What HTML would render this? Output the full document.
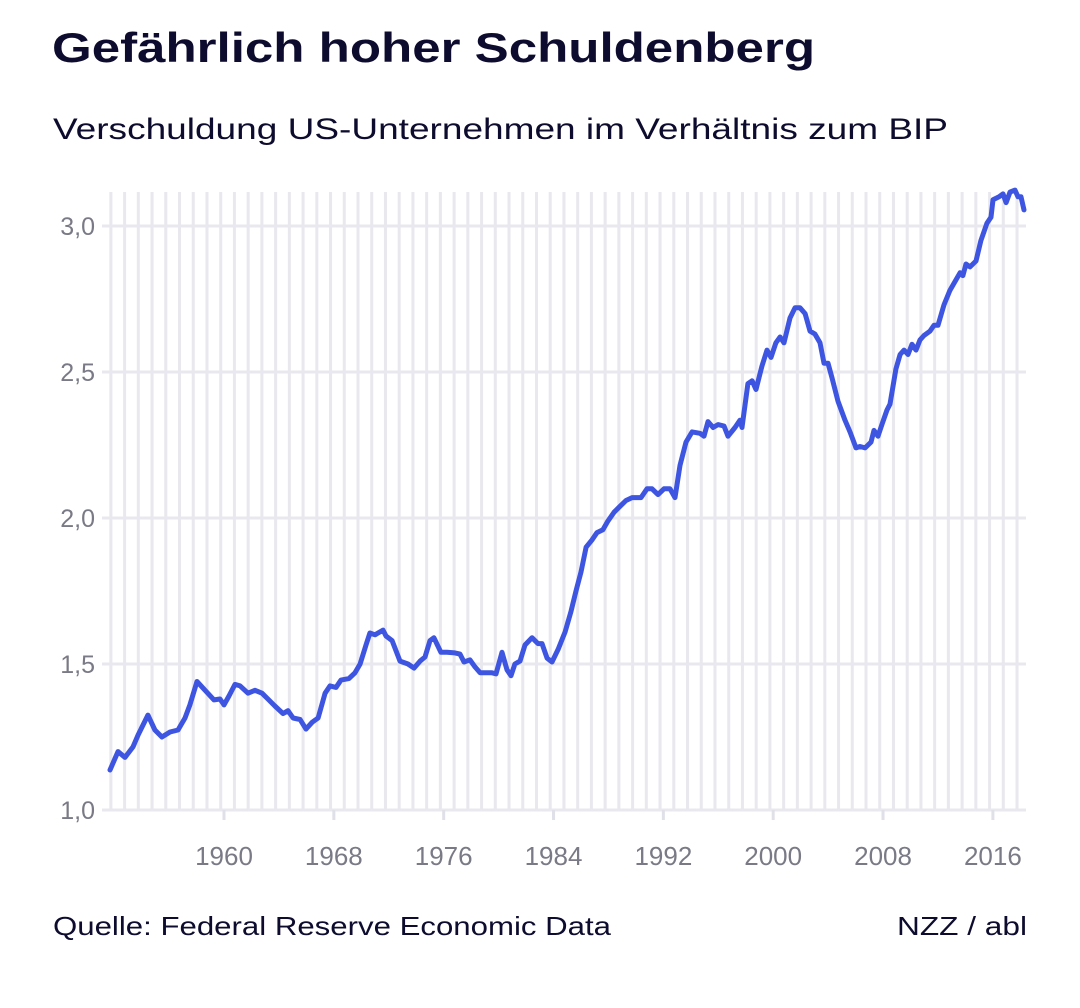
<!DOCTYPE html>
<html><head><meta charset="utf-8"><style>
html,body{margin:0;padding:0;background:#fff;}
svg{display:block;font-family:"Liberation Sans",sans-serif;}
</style></head><body>
<svg id="chart" width="1080" height="1008" viewBox="0 0 1080 1008">
<text x="52" y="62" font-size="42" font-weight="bold" fill="#0d0c2e" textLength="763" lengthAdjust="spacingAndGlyphs">Gefährlich hoher Schuldenberg</text>
<text x="53" y="139" font-size="30" fill="#0d0c2e" textLength="895" lengthAdjust="spacingAndGlyphs">Verschuldung US-Unternehmen im Verhältnis zum BIP</text>
<g id="grid"></g>
<g id="axes"></g>
<g id="series"></g>
<text x="53" y="935" font-size="26" fill="#0d0c2e" textLength="558" lengthAdjust="spacingAndGlyphs">Quelle: Federal Reserve Economic Data</text>
<text x="897" y="935" font-size="26" fill="#0d0c2e" textLength="130" lengthAdjust="spacingAndGlyphs">NZZ / abl</text>
</svg>
<script>
const yTicks = [1.0, 1.5, 2.0, 2.5, 3.0];
const yTickLabels = ["1,0", "1,5", "2,0", "2,5", "3,0"];
const xTicks = [1960, 1968, 1976, 1984, 1992, 2000, 2008, 2016];
const years = [1951.70,1952.28,1952.79,1953.37,1953.74,1954.46,1954.97,1955.48,1956.07,1956.65,1957.16,1957.52,1958.03,1958.62,1959.27,1959.71,1960.00,1960.36,1960.80,1961.17,1961.75,1962.26,1962.77,1963.20,1963.71,1964.30,1964.66,1965.03,1965.54,1965.97,1966.41,1966.85,1967.36,1967.72,1968.16,1968.52,1969.10,1969.54,1969.91,1970.34,1970.63,1971.00,1971.58,1971.80,1972.24,1972.82,1973.40,1973.84,1974.28,1974.64,1975.00,1975.29,1975.80,1976.24,1976.82,1977.19,1977.48,1977.92,1978.28,1978.65,1979.08,1979.52,1979.81,1980.25,1980.61,1980.90,1981.19,1981.56,1981.92,1982.43,1982.87,1983.16,1983.53,1983.89,1984.33,1984.84,1985.27,1985.64,1986.00,1986.37,1986.80,1987.17,1987.60,1987.97,1988.41,1988.84,1989.28,1989.72,1990.37,1990.81,1991.17,1991.61,1992.05,1992.48,1992.85,1993.21,1993.65,1994.09,1994.67,1994.96,1995.25,1995.62,1995.98,1996.42,1996.71,1997.22,1997.58,1997.73,1998.16,1998.46,1998.75,1999.18,1999.55,1999.84,2000.20,2000.50,2000.79,2001.22,2001.59,2001.95,2002.32,2002.68,2003.04,2003.41,2003.70,2003.99,2004.28,2004.72,2005.23,2005.59,2006.03,2006.32,2006.69,2007.12,2007.34,2007.63,2007.92,2008.29,2008.51,2008.94,2009.24,2009.53,2009.82,2010.11,2010.40,2010.69,2010.98,2011.42,2011.71,2012.00,2012.44,2012.88,2013.31,2013.61,2013.82,2014.04,2014.33,2014.77,2015.13,2015.57,2015.86,2016.01,2016.45,2016.74,2016.96,2017.25,2017.61,2017.83,2018.05,2018.27];
const debtRatio = [1.137,1.20,1.18,1.216,1.257,1.325,1.274,1.25,1.267,1.274,1.315,1.36,1.44,1.41,1.377,1.38,1.36,1.39,1.43,1.425,1.40,1.41,1.40,1.38,1.356,1.33,1.34,1.315,1.31,1.277,1.30,1.315,1.40,1.425,1.42,1.445,1.45,1.47,1.50,1.565,1.606,1.60,1.616,1.596,1.58,1.51,1.50,1.486,1.51,1.524,1.58,1.59,1.54,1.54,1.538,1.534,1.507,1.514,1.49,1.47,1.47,1.47,1.466,1.54,1.48,1.46,1.50,1.51,1.565,1.59,1.57,1.57,1.52,1.507,1.55,1.61,1.68,1.75,1.815,1.90,1.925,1.95,1.96,1.99,2.02,2.04,2.06,2.07,2.07,2.10,2.10,2.08,2.10,2.10,2.07,2.18,2.26,2.295,2.29,2.28,2.33,2.31,2.32,2.315,2.28,2.31,2.335,2.31,2.46,2.47,2.44,2.52,2.575,2.55,2.60,2.62,2.60,2.685,2.72,2.72,2.70,2.64,2.63,2.60,2.53,2.53,2.48,2.40,2.335,2.295,2.24,2.245,2.24,2.26,2.30,2.28,2.32,2.37,2.39,2.51,2.56,2.575,2.56,2.595,2.575,2.61,2.625,2.64,2.66,2.66,2.73,2.78,2.815,2.84,2.83,2.87,2.86,2.88,2.95,3.01,3.03,3.09,3.10,3.11,3.08,3.116,3.123,3.10,3.10,3.055];

const NS = "http://www.w3.org/2000/svg";
const xScale = y => 224 + (y - 1960) * 13.73;
const yScale = v => 810 - (v - 1.0) * 292;
function mk(tag, attrs, parent) {
  const e = document.createElementNS(NS, tag);
  for (const k in attrs) e.setAttribute(k, attrs[k]);
  parent.appendChild(e);
  return e;
}
const grid = document.getElementById('grid');
const axes = document.getElementById('axes');
const series = document.getElementById('series');
for (let yr = 1952; yr <= 2018; yr++) {
  const x = xScale(yr) - 3.3;
  const l = mk('line', {x1: x, x2: x, y1: 192, y2: 810, stroke: '#e8e8ee', 'stroke-width': 3}, grid);
  
  
}
yTicks.forEach((v, i) => {
  const y = yScale(v);
  const l = mk('line', {x1: 102, x2: 1026, y1: y, y2: y, stroke: '#e8e8ee', 'stroke-width': 3}, grid);
  
  
  const t = mk('text', {x: 95, y: y + 9, 'font-size': 25, fill: '#7a7a86', 'text-anchor': 'end'}, axes);
  t.textContent = yTickLabels[i];
  
  
});
xTicks.forEach(yr => {
  const x = xScale(yr);
  const tk = mk('line', {x1: x, x2: x, y1: 810, y2: 820, stroke: '#e0e0e8', 'stroke-width': 3}, axes);
  
  
  const t = mk('text', {x: x, y: 865, 'font-size': 26, fill: '#7a7a86', 'text-anchor': 'middle'}, axes);
  t.textContent = String(yr);
  
  
});
let d = '';
years.forEach((yr, i) => {
  d += (i ? 'L' : 'M') + xScale(yr).toFixed(1) + ',' + yScale(debtRatio[i]).toFixed(1);
});
const p = mk('path', {d: d, fill: 'none', stroke: '#3d55e0', 'stroke-width': 5, 'stroke-linejoin': 'round', 'stroke-linecap': 'round'}, series);


</script>
</body></html>
